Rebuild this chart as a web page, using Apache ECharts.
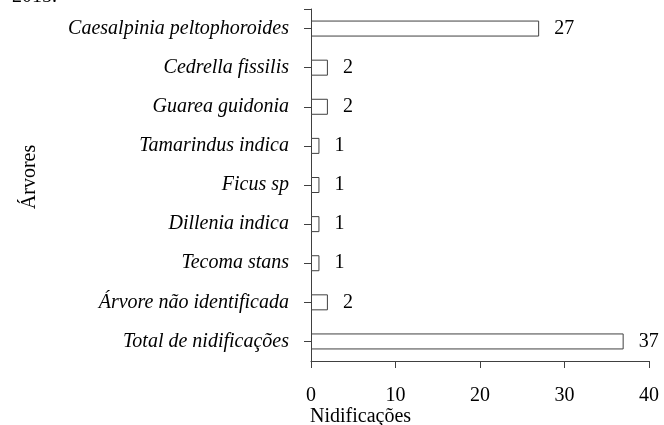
<!DOCTYPE html>
<html>
<head>
<meta charset="utf-8">
<script src="https://cdn.jsdelivr.net/npm/echarts@6/dist/echarts.min.js"></script>
<style>
  html, body { margin: 0; padding: 0; background: #fff; }
  #chart { width: 664px; height: 425px; }
</style>
</head>
<body>
<div id="chart"></div>
<script>
// categories, top to bottom
const arvores = [
  'Caesalpinia peltophoroides',
  'Cedrella fissilis',
  'Guarea guidonia',
  'Tamarindus indica',
  'Ficus sp',
  'Dillenia indica',
  'Tecoma stans',
  'Árvore não identificada',
  'Total de nidificações'
]
const nidificacoes = [27, 2, 2, 1, 1, 1, 1, 2, 37]
const xTicks = [0, 10, 20, 30, 40]

const FONT = '"Liberation Serif", "Times New Roman", serif'
const LINE = '#404040'
const gridBox = { left: 311, right: 15, top: 9, bottom: 64 }

const chart = echarts.init(document.getElementById('chart'))

chart.setOption({
  backgroundColor: '#fff',
  animation: false,
  grid: Object.assign({ containLabel: false }, gridBox),
  xAxis: {
    type: 'value',
    min: xTicks[0],
    max: xTicks[xTicks.length - 1],
    interval: xTicks[1] - xTicks[0],
    axisLine: { show: true, lineStyle: { color: LINE, width: 1 } },
    axisTick: { show: true, length: 7, lineStyle: { color: LINE } },
    axisLabel: { color: '#000', fontFamily: FONT, fontSize: 20, margin: 25 },
    splitLine: { show: false }
  },
  yAxis: {
    type: 'category',
    data: arvores,
    inverse: true,
    axisLine: { show: true, lineStyle: { color: LINE, width: 1 } },
    axisTick: { show: true, alignWithLabel: true, length: 7, lineStyle: { color: LINE } },
    axisLabel: { color: '#000', fontFamily: FONT, fontSize: 20, fontStyle: 'italic', margin: 22 }
  },
  series: [{
    type: 'bar',
    data: nidificacoes,
    barWidth: 16,
    itemStyle: { color: '#fff', borderColor: LINE, borderWidth: 1 },
    label: {
      show: true,
      position: 'right',
      distance: 15,
      color: '#000',
      fontFamily: FONT,
      fontSize: 20
    }
  }]
})

// axis cap at the top of the category axis, plus free text
const x0 = chart.convertToPixel({ xAxisIndex: 0 }, 0)
const plotH = 425 - gridBox.top - gridBox.bottom
const yTop = gridBox.top
chart.setOption({
  graphic: [
    {
      type: 'line',
      shape: { x1: x0 - 7, y1: yTop + 0.5, x2: x0, y2: yTop + 0.5 },
      style: { stroke: LINE, lineWidth: 1 }
    },
    {
      type: 'text',
      x: x0 - 1,
      y: yTop + plotH + 46,
      style: { text: 'Nidificações', fill: '#000', font: '20px ' + FONT }
    },
    {
      type: 'text',
      x: 30,
      y: yTop + plotH / 2 - 8,
      rotation: Math.PI / 2,
      style: { text: 'Árvores', fill: '#000', font: '20px ' + FONT, align: 'center', verticalAlign: 'middle' }
    },
    {
      type: 'text',
      x: 12,
      y: -13,
      style: { text: '2015.', fill: '#000', font: '20px ' + FONT }
    }
  ]
})
</script>
</body>
</html>
